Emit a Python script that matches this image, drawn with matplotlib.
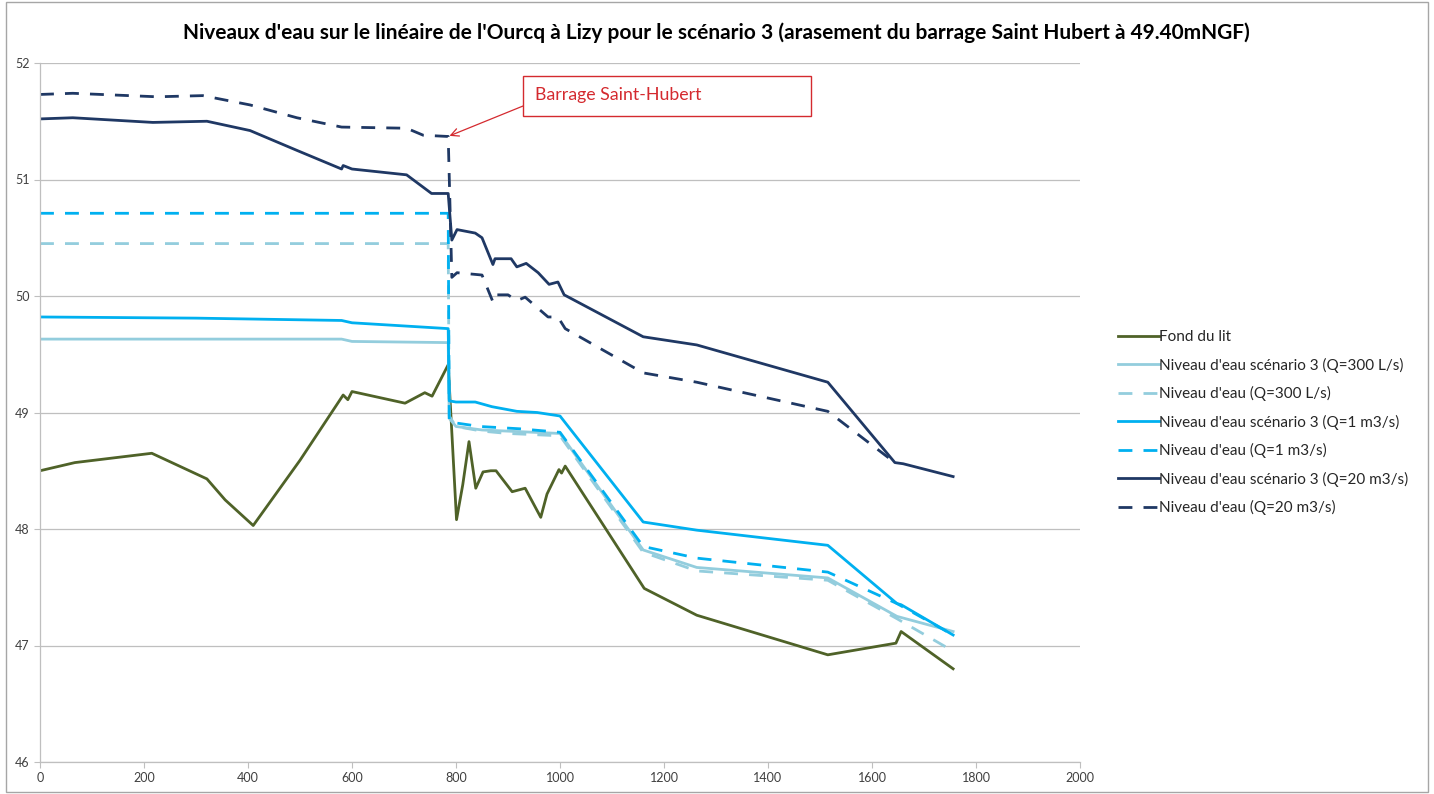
import matplotlib
matplotlib.use("Agg")
import matplotlib.pyplot as plt
from matplotlib.patches import Rectangle

plt.rcParams['font.family'] = ['Lato', 'DejaVu Sans']

title = "Niveaux d'eau sur le linéaire de l'Ourcq à Lizy pour le scénario 3 (arasement du barrage Saint Hubert à 49.40mNGF)"

x_fond = [0, 67, 215, 321, 356, 410, 500, 583, 592, 600, 702, 740, 754, 785, 801, 813, 825, 838, 852, 867,
          877, 908, 933, 963, 975, 998, 1003, 1010, 1162, 1263, 1515, 1646, 1656, 1756]
y_fond = [48.50, 48.57, 48.65, 48.43, 48.25, 48.03, 48.59, 49.15, 49.11, 49.18, 49.08, 49.17, 49.14, 49.41,
          48.08, 48.38, 48.75, 48.35, 48.49, 48.50, 48.50, 48.32, 48.35, 48.10, 48.30, 48.51, 48.48, 48.54,
          47.49, 47.26, 46.92, 47.02, 47.12, 46.80]

x_s300 = [0, 580, 600, 785, 787, 800, 850, 900, 950, 1000, 1160, 1263, 1515, 1648, 1756]
y_s300 = [49.63, 49.63, 49.61, 49.60, 48.95, 48.88, 48.85, 48.84, 48.83, 48.82, 47.82, 47.67, 47.58, 47.25, 47.12]

x_d300 = [0, 785, 787, 800, 850, 900, 950, 1000, 1160, 1263, 1515, 1648, 1745]
y_d300 = [50.45, 50.45, 48.97, 48.88, 48.84, 48.82, 48.81, 48.80, 47.80, 47.64, 47.56, 47.23, 46.98]

x_s1 = [0, 300, 580, 600, 785, 787, 800, 837, 869, 917, 956, 1000, 1160, 1263, 1515, 1648, 1656, 1756]
y_s1 = [49.82, 49.81, 49.79, 49.77, 49.72, 49.10, 49.09, 49.09, 49.05, 49.01, 49.00, 48.97, 48.06, 47.99,
        47.86, 47.36, 47.35, 47.09]

x_d1 = [0, 785, 787, 800, 846, 923, 1000, 1160, 1263, 1515, 1648, 1756]
y_d1 = [50.71, 50.71, 48.92, 48.91, 48.88, 48.86, 48.83, 47.85, 47.75, 47.63, 47.36, 47.09]

x_s20 = [0, 63, 217, 321, 404, 494, 580, 583, 600, 705, 753, 785, 792, 802, 837, 850, 871, 875, 906, 917,
         935, 958, 979, 996, 1008, 1160, 1263, 1515, 1644, 1660, 1756]
y_s20 = [51.52, 51.53, 51.49, 51.50, 51.42, 51.25, 51.09, 51.12, 51.09, 51.04, 50.88, 50.88, 50.48, 50.57,
         50.54, 50.50, 50.27, 50.32, 50.32, 50.25, 50.28, 50.20, 50.10, 50.12, 50.01, 49.65, 49.58, 49.26,
         48.57, 48.56, 48.45]

x_d20 = [0, 63, 225, 313, 404, 494, 580, 705, 737, 782, 785, 792, 802, 850, 871, 875, 900, 917, 933, 977,
         996, 1010, 1160, 1263, 1515, 1644]
y_d20 = [51.73, 51.74, 51.71, 51.72, 51.64, 51.53, 51.45, 51.44, 51.38, 51.37, 51.37, 50.16, 50.20, 50.18,
         49.95, 50.01, 50.01, 49.96, 49.99, 49.82, 49.82, 49.72, 49.34, 49.26, 49.01, 48.57]

labels = ["Fond du lit",
          "Niveau d'eau scénario 3 (Q=300 L/s)",
          "Niveau d'eau (Q=300 L/s)",
          "Niveau d'eau scénario 3 (Q=1 m3/s)",
          "Niveau d'eau (Q=1 m3/s)",
          "Niveau d'eau scénario 3 (Q=20 m3/s)",
          "Niveau d'eau (Q=20 m3/s)"]

x_ticks = [0, 200, 400, 600, 800, 1000, 1200, 1400, 1600, 1800, 2000]
y_ticks = [46, 47, 48, 49, 50, 51, 52]

annot_text = "Barrage Saint-Hubert"
annot_point = (785, 51.37)

c_green = '#4F6228'
c_light = '#93CDDD'
c_cyan = '#00B0F0'
c_navy = '#1F3864'
c_red = '#D42A2F'

fig = plt.figure(figsize=(14.34, 7.94), dpi=100)
ax = fig.add_axes([40/1434, 1-762/794, 1040/1434, (762-63)/794])

lw = 2.0
dash = (5, 4)
ax.plot(x_fond, y_fond, color=c_green, lw=lw, label=labels[0])
ax.plot(x_s300, y_s300, color=c_light, lw=lw, label=labels[1])
ax.plot(x_d300, y_d300, color=c_light, lw=lw, dashes=dash, label=labels[2])
ax.plot(x_s1, y_s1, color=c_cyan, lw=lw, label=labels[3])
ax.plot(x_d1, y_d1, color=c_cyan, lw=lw, dashes=dash, label=labels[4])
ax.plot(x_s20, y_s20, color=c_navy, lw=lw, label=labels[5])
ax.plot(x_d20, y_d20, color=c_navy, lw=lw, dashes=dash, label=labels[6])

ax.set_xlim(0, 2000)
ax.set_ylim(46, 52)
ax.set_xticks(x_ticks)
ax.set_yticks(y_ticks)
ax.tick_params(axis='both', labelsize=9, colors='#404040', length=4, width=0.8)
ax.tick_params(axis='x', direction='out', color='#BFBFBF')
ax.tick_params(axis='y', length=4, color='#BFBFBF')
ax.grid(axis='y', color='#BFBFBF', lw=0.9)
ax.set_axisbelow(True)
for s in ['top', 'right']:
    ax.spines[s].set_visible(False)
for s in ['left', 'bottom']:
    ax.spines[s].set_color('#BFBFBF')
    ax.spines[s].set_linewidth(0.9)

fig.text(716/1434, 1-33/794, title, ha='center', va='center', fontsize=15, fontweight='bold', color='black')

# annotation box (callout)
box_x0, box_x1 = 929, 1483
box_y0, box_y1 = 51.545, 51.888
ax.add_patch(Rectangle((box_x0, box_y0), box_x1 - box_x0, box_y1 - box_y0, fill=True, fc='white',
                       ec=c_red, lw=1.0, zorder=5, clip_on=False))
ax.text(952, 51.722, annot_text, fontsize=12.8, color=c_red, va='center', ha='left', zorder=6)
ax.annotate('', xy=annot_point, xytext=(box_x0, 51.631), textcoords='data',
            arrowprops=dict(arrowstyle='->', color=c_red, lw=0.9, shrinkA=0, shrinkB=1,
                            mutation_scale=14), zorder=6)

leg = fig.legend(loc='upper left', bbox_to_anchor=(1112/1434, 1-324/794), frameon=False,
                 fontsize=11, handlelength=2.7, handletextpad=0.0, labelspacing=0.88,
                 borderaxespad=0)
for t in leg.get_texts():
    t.set_color('#262626')

fig.patches.append(Rectangle((0.004, 0.003), 0.992, 0.994, transform=fig.transFigure,
                             fill=False, ec='#A6A6A6', lw=1.0))

fig.savefig('out.png', dpi=100)
